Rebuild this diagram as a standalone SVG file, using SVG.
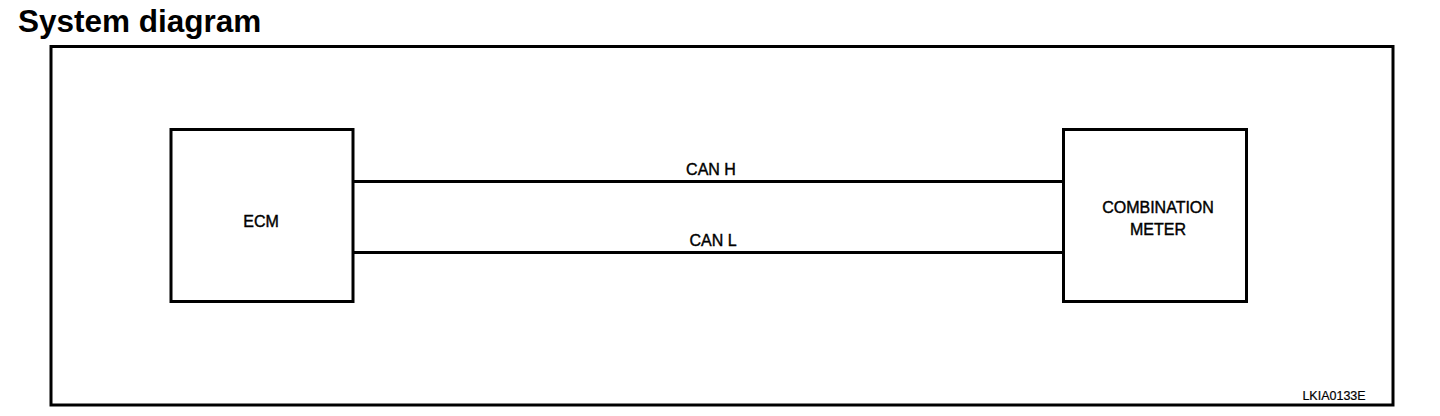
<svg xmlns="http://www.w3.org/2000/svg" width="1440" height="416" viewBox="0 0 1440 416">
<style>
.box{fill:#fff;stroke:#000;stroke-width:3}
.t{font-family:"Liberation Sans",Arial,sans-serif;font-size:16px;fill:#000;stroke:#000;stroke-width:0.4;text-anchor:middle}
.w{stroke:#000;stroke-width:3;fill:none}
</style>
<rect width="1440" height="416" fill="#fff"/>
<text x="18" y="32" style="font-family:'Liberation Sans',Arial,sans-serif;font-size:31.5px;font-weight:bold">System diagram</text>
<rect x="51" y="46.5" width="1342" height="358.5" fill="none" stroke="#000" stroke-width="3"/>
<g id="connectors">
<line class="w" x1="354" y1="181.5" x2="1063" y2="181.5"/>
<line class="w" x1="354" y1="252.5" x2="1063" y2="252.5"/>
<text class="t" x="711" y="175">CAN H</text>
<text class="t" x="713" y="246">CAN L</text>
</g>
<g id="ecm">
<rect class="box" x="171" y="129.5" width="182" height="172"/>
<text class="t" x="261" y="227">ECM</text>
</g>
<g id="meter">
<rect class="box" x="1063.5" y="129.5" width="183" height="172"/>
<text class="t" x="1158" y="213">COMBINATION</text>
<text class="t" x="1158" y="235">METER</text>
</g>
<text x="1334" y="400" style="font-family:'Liberation Sans',Arial,sans-serif;font-size:12.5px;text-anchor:middle;stroke:#000;stroke-width:0.2">LKIA0133E</text>
</svg>
